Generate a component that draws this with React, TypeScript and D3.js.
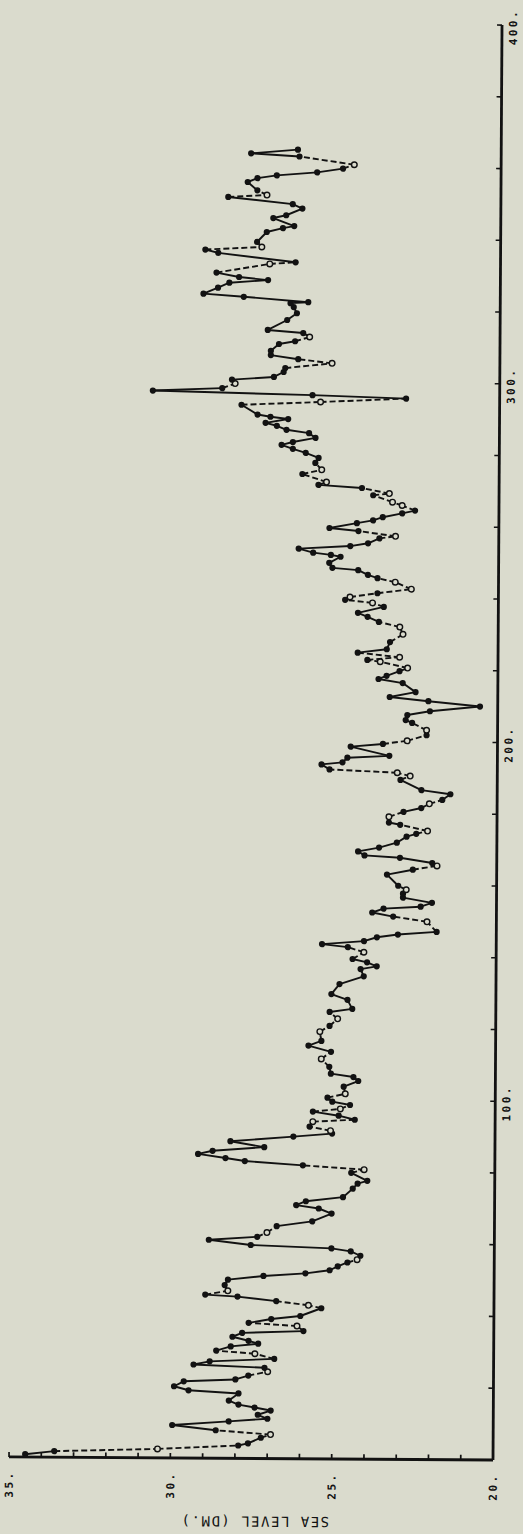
import React from "react";
import * as d3 from "d3";

// month index (time axis), bottom -> top
const month = [
  0.8, 1.7, 2.5, 3.6, 4.2, 5.8, 6.7, 7.8, 9.2, 10.3, 11.1, 12.2, 13.4, 14.2, 15.0, 16.1, 18.1, 18.9, 20.0, 21.4,
  22.0, 23.1, 24.2, 25.3, 26.1, 27.0, 27.8, 29.2, 30.0, 31.2, 32.0, 32.8, 33.9, 35.0, 35.6, 37.0, 37.8, 38.9, 39.8,
  42.0, 42.8, 43.9, 45.1, 45.6, 46.7, 48.3, 49.8, 50.9, 51.7, 52.6, 53.7, 54.8, 55.6, 56.7, 57.9, 58.7, 59.5, 60.9, 61.8,
  63.0, 64.8, 66.2, 68.4, 69.8, 70.7, 71.8, 73.0, 75.4, 76.8, 77.6, 79.8, 80.7, 81.8, 82.9, 83.7, 84.8, 85.7, 86.8, 88.4,
  89.8, 90.7, 91.5, 92.6, 94.0, 94.6, 95.7, 96.8, 97.6, 98.7, 99.6, 100.7, 101.8, 103.8, 105.4, 106.5, 107.4, 109.3,
  111.5, 113.5, 115.2, 116.5, 119.1, 120.7, 122.7, 124.6, 125.5, 128.0, 129.6, 132.4, 134.6, 136.6, 137.4, 138.5, 139.4,
  141.3, 142.7, 143.5, 144.4, 145.5, 146.3, 147.1, 149.9, 151.3, 152.4, 153.5, 154.1, 155.2, 156.6, 157.7, 158.8, 159.9,
  163.0, 164.4, 165.5, 166.3, 167.7, 168.3, 169.4, 170.5, 171.9, 173.6, 174.4, 175.2, 176.9, 177.5, 179.1, 180.5, 181.6,
  182.8, 183.9, 185.5, 186.6, 189.4,
  190.5, 191.4, 192.2, 193.6, 194.2, 195.5, 196.1, 198.6, 199.4, 200.3, 201.9, 203.3, 205.3, 206.1, 207.5, 208.6, 210.0,
  211.4, 212.5, 213.9, 216.4, 217.5, 218.4, 219.7, 220.6, 222.3, 222.8, 223.6, 224.8, 225.8, 227.8, 230.0, 232.0, 233.4,
  234.8, 235.9, 237.6, 238.7, 239.5, 240.3, 241.4, 242.6, 244.5, 245.6, 246.5, 247.8, 248.4, 249.8, 251.5, 252.0, 252.6,
  253.7, 254.5, 255.3, 256.7, 257.3, 258.7, 259.5,
  260.9, 261.7, 262.6, 263.7, 264.5, 265.9, 266.8, 268.7, 269.2, 270.7, 271.5, 272.3, 274.5, 275.7, 277.6, 279.0, 280.4,
  281.5, 282.6, 283.4, 284.6, 285.9, 286.8, 287.9, 288.7, 289.8, 290.4, 291.0, 293.7, 294.6, 295.7, 296.5, 297.5, 298.3,
  299.6, 300.7, 301.5, 302.9, 304.0, 305.4, 306.5, 307.6, 308.8, 310.7, 311.5, 312.7, 313.8, 314.6, 317.4, 319.3, 321.0,
  322.1, 322.4, 323.8, 324.6, 326.3, 327.7, 328.5, 329.3,
  330.5, 333.0, 333.5, 336.0, 336.9, 337.7, 339.1, 341.9, 343.0, 343.6, 345.8, 346.6, 348.5, 349.7, 351.6, 352.2, 353.5,
  355.8, 356.9, 357.7, 358.6, 359.7, 360.8, 363.0, 363.8, 364.9,
];

// sea level (dm)
const level = [
  34.5, 33.6, 30.4, 27.9, 27.6, 27.2, 26.9, 28.6, 29.95, 28.2, 27.0, 27.3, 26.9, 27.4, 27.9, 28.2, 27.9, 29.45, 29.9, 29.6,
  28.0, 27.6, 27.0, 27.1, 29.3, 28.8, 26.8, 27.4, 28.6, 28.15, 27.3, 27.6, 28.1, 27.8, 25.9, 26.1, 27.6, 26.9, 26.0,
  25.35, 25.75, 26.75, 27.95, 28.95, 28.25, 28.35, 28.25, 27.15, 25.85, 25.1, 24.85, 24.55, 24.25, 24.15, 24.45, 25.05, 27.55, 28.85, 27.35,
  27.05, 26.75, 25.65, 25.05, 25.45, 26.15, 25.85, 24.7, 24.4, 24.25, 23.95, 24.45, 24.05, 25.95, 27.75, 28.35, 29.2, 28.75, 27.15, 28.2,
  26.25, 25.05, 25.1, 25.75, 25.65, 24.35, 24.85, 25.65, 24.8, 24.5, 25.05, 25.2, 24.65, 24.7, 24.25, 24.4, 25.1, 25.15,
  25.4, 25.1, 25.8, 25.4, 25.45, 25.15, 24.9, 25.15, 24.45, 24.6, 25.1, 24.85, 24.1, 24.2, 23.7, 24.0, 24.45,
  24.1, 24.6, 25.4, 24.1, 23.7, 23.05, 21.85, 22.15, 23.2, 23.85, 23.5, 22.35, 22.0, 22.9, 22.9, 22.8, 23.05,
  23.4, 22.6, 21.85, 22.0, 23.0, 24.1, 24.3, 23.65, 23.1, 22.8, 22.5, 22.15, 23.0, 23.35, 23.35, 22.9, 22.35,
  22.1, 21.7, 21.45, 22.35, 23.0,
  22.7, 23.1, 25.2, 25.45, 24.8, 24.65, 23.35, 24.55, 23.55, 22.8, 22.2, 22.2, 22.65, 22.85, 22.8, 22.1, 20.55,
  22.15, 23.35, 22.55, 22.95, 23.7, 23.45, 23.05, 22.8, 23.65, 24.05, 23.05, 24.35, 23.45, 23.35, 22.95, 23.05, 23.7,
  24.05, 24.35, 23.55, 23.9, 24.75, 24.6, 23.75, 22.7, 23.2, 23.75, 24.05, 24.35, 25.15, 25.25, 24.9, 25.2, 25.75,
  26.2, 24.6, 24.05, 23.7, 23.2, 24.35, 25.25,
  24.4, 23.9, 23.6, 23.0, 22.6, 23.0, 23.3, 23.9, 23.4, 24.25, 25.6, 25.35, 26.1, 25.5, 25.7, 25.6, 26.0,
  26.4, 26.75, 26.4, 25.7, 25.9, 26.6, 26.9, 27.25, 26.55, 27.1, 27.5, 28.0, 25.55, 22.9, 25.8, 30.75, 28.6,
  28.2, 28.3, 27.0, 26.7, 26.65, 25.2, 26.25, 27.1, 27.1, 26.85, 26.35, 25.9, 26.1, 27.2, 26.6, 26.3, 26.4,
  26.5, 25.95, 27.95, 29.2, 28.75, 28.4, 27.2, 28.1,
  28.8, 27.15, 26.35, 28.75, 29.15, 27.4, 27.55, 27.25, 26.75, 26.4, 27.05, 26.65, 26.15, 26.45, 28.45, 27.25, 27.55,
  27.85, 27.55, 26.95, 25.7, 24.9, 24.55, 26.25, 27.75, 26.3,
];

// months plotted with an open circle (estimated values)
const hollowMonths = [
  2.5, 6.7, 24.2, 29.2, 37.0, 42.8, 46.7, 55.6, 63.0, 80.7, 91.5, 94.0, 97.6, 101.8, 111.5, 119.1, 122.7, 141.3,
  149.9, 158.8, 165.5, 175.2, 179.1, 182.8, 190.5, 191.4, 200.3, 203.3, 220.6, 222.3, 223.6, 230.0, 232.0, 238.7,
  240.3, 242.6, 244.5, 257.3, 265.9, 266.8, 269.2, 272.3, 275.7, 294.6, 299.6, 305.4, 312.7, 333.0, 337.7, 352.2, 360.8,
];

const levelTicks = d3.range(20, 36, 1);
const levelLabels = [20, 25, 30, 35];
const monthTicks = d3.range(20, 401, 20);
const monthLabels = [100, 200, 300, 400];

const BG = "#dadbcd";
const INK = "#121212";

export default function App() {
  const W = 523, H = 1534;
  const x = d3.scaleLinear().domain([20, 35]).range([493, 9]);
  const y = d3.scaleLinear().domain([0, 400]).range([1460, 25]);

  const pts = month.map((m, i) => ({
    m,
    v: level[i],
    open: hollowMonths.includes(m),
  }));

  const segs = [];
  for (let i = 0; i < pts.length - 1; i++) {
    const a = pts[i], b = pts[i + 1];
    segs.push(
      <line
        key={"s" + i}
        x1={x(a.v)} y1={y(a.m)} x2={x(b.v)} y2={y(b.m)}
        stroke={INK}
        strokeWidth={1.9}
        strokeDasharray={a.open || b.open ? "6 3" : null}
      />
    );
  }

  const labelFont = {
    fontFamily: "'DejaVu Sans Mono', monospace",
    fontWeight: 700,
    fontSize: 11,
    letterSpacing: 2.5,
    fill: INK,
  };

  return (
    <div style={{ position: "absolute", left: 0, top: 0 }}>
      <svg width={W} height={H} style={{ display: "block" }}>
        <rect width={W} height={H} fill={BG} />
        <g transform="rotate(0.36 493 1460)">
          {/* sea level axis (bottom) */}
          <line x1={x(35)} x2={x(20)} y1={y(0)} y2={y(0)} stroke={INK} strokeWidth={2.8} />
          {levelTicks.map((t) => (
            <line key={"lt" + t} x1={x(t)} x2={x(t)} y1={y(0)} y2={y(0) - 5} stroke={INK} strokeWidth={1.7} />
          ))}
          {levelLabels.map((t) => (
            <text
              key={"ll" + t}
              transform={`translate(${x(t) + 4},${y(0) + 27}) rotate(-90)`}
              textAnchor="middle"
              style={labelFont}
            >
              {t + "."}
            </text>
          ))}
          <text
            transform={`translate(255,${y(0) + 58}) rotate(180)`}
            textAnchor="middle"
            style={{ ...labelFont, fontSize: 14, letterSpacing: 1.5, fontWeight: 400 }}
          >
            SEA LEVEL (DM.)
          </text>

          {/* time axis (right) */}
          <line x1={x(20)} x2={x(20)} y1={y(0)} y2={y(400)} stroke={INK} strokeWidth={2.8} />
          {monthTicks.map((t) => (
            <line key={"mt" + t} x1={x(20)} x2={x(20) - 5} y1={y(t)} y2={y(t)} stroke={INK} strokeWidth={1.7} />
          ))}
          {monthLabels.map((t) => (
            <text
              key={"ml" + t}
              transform={`translate(${x(20) + 15},${y(t) + 2}) rotate(-90)`}
              textAnchor="middle"
              style={labelFont}
            >
              {t + "."}
            </text>
          ))}

          {/* series */}
          {segs}
          {pts.map((p, i) =>
            p.open ? (
              <circle key={"p" + i} cx={x(p.v)} cy={y(p.m)} r={2.8} fill={BG} stroke={INK} strokeWidth={1.4} />
            ) : (
              <circle key={"p" + i} cx={x(p.v)} cy={y(p.m)} r={3.1} fill={INK} />
            )
          )}
        </g>
      </svg>
    </div>
  );
}
